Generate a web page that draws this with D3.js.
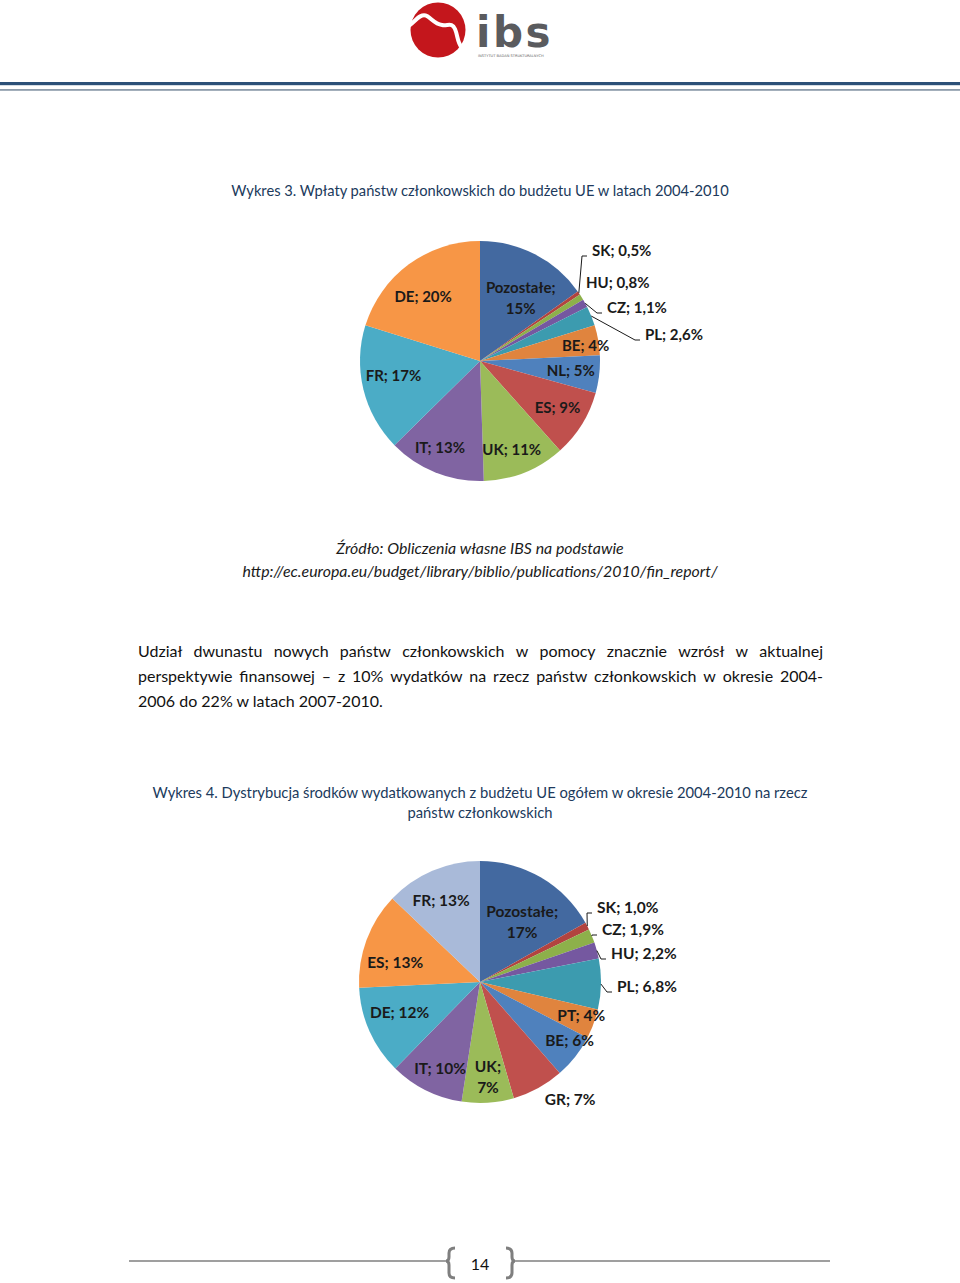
<!DOCTYPE html>
<html><head><meta charset="utf-8">
<script src="https://cdn.jsdelivr.net/npm/d3@7"></script>
<style>
html,body{margin:0;padding:0;background:#fff;}
svg{display:block;}
</style></head>
<body>
<script>
// ---------- DATA ----------
const chart1Categories = ["Pozostałe","SK","HU","CZ","PL","BE","NL","ES","UK","IT","FR","DE"];
const chart1Values = [15, 0.5, 0.8, 1.1, 2.6, 4, 5, 9, 11, 13, 17, 20];
const chart1Labels = ["15%","0,5%","0,8%","1,1%","2,6%","4%","5%","9%","11%","13%","17%","20%"];

const chart2Categories = ["Pozostałe","SK","CZ","HU","PL","PT","BE","GR","UK","IT","DE","ES","FR"];
const chart2Values = [17, 1.0, 1.9, 2.2, 6.8, 4, 6, 7, 7, 10, 12, 13, 13];
const chart2Labels = ["17%","1,0%","1,9%","2,2%","6,8%","4%","6%","7%","7%","10%","12%","13%","13%"];

// ---------- STYLE / LAYOUT ----------
const chart1Colors = ["#4369A0","#B2433F","#8DB04A","#7558A0","#3C9BAF","#E0843E","#4F81BD","#C0504D","#9BBB59","#8064A2","#4BACC6","#F79646"];
const chart2Colors = ["#4369A0","#B2433F","#8DB04A","#7558A0","#3C9BAF","#E0843E","#4F81BD","#C0504D","#9BBB59","#8064A2","#4BACC6","#F79646","#A9BAD9"];
// inside label placement: [radius as fraction of pie radius, angular nudge in degrees]
const chart1LabelPlace = {"Pozostałe":[0.63,5.3],"BE":[0.89,1.4],"NL":[0.76,-0.8],"ES":[0.75,-1.3],"UK":[0.78,2],"IT":[0.79,3.2],"FR":[0.73,4.6],"DE":[0.72,-4.8]};
const chart2LabelPlace = {"Pozostałe":[0.61,4.5],"PT":[0.88,-2.2],"BE":[0.88,-5.3],"GR":[1.22,-8.9],"UK":[0.78,-1.1],"IT":[0.78,-1.6],"DE":[0.71,3.6],"ES":[0.72,-7.2],"FR":[0.75,-2.2]};
// callout labels: offset of label's left/middle from pie centre, and whether a leader is drawn
const chart1Callouts = {"SK":[112,-111,true],"HU":[106,-79,false],"CZ":[127,-54,true],"PL":[165,-27,true]};
const chart2Callouts = {"SK":[117,-75,true],"CZ":[122,-53,true],"HU":[131,-29,true],"PL":[137,4,true]};
const chart1TwoLine = ["Pozostałe"];
const chart2TwoLine = ["Pozostałe","UK"];

const W = 960, H = 1283;
const svg = d3.select("body").append("svg").attr("width", W).attr("height", H);
const FONT = "Lato, 'Open Sans', sans-serif";

// ---------- HEADER ----------
const logo = svg.append("g");
logo.append("circle").attr("cx",438).attr("cy",30).attr("r",27.5).attr("fill","#C4161C");
logo.append("path")
  .attr("d","M410,25 C416,20 421,13 427,16 C432,19 435,24 442,25 C448,26 452,22 455,29 C458,36 457,42 462,48")
  .attr("fill","none").attr("stroke","#fff").attr("stroke-width",4).attr("stroke-linecap","round");
logo.append("text").attr("x",476).attr("y",32).text("ibs")
  .attr("font-family","'DejaVu Sans', sans-serif").attr("font-weight","bold")
  .attr("dominant-baseline","central")
  .attr("font-size",42).attr("fill","#5A5B5E").attr("letter-spacing",2.5);
logo.append("text").attr("x",478).attr("y",57).text("INSTYTUT BADAŃ STRUKTURALNYCH")
  .attr("font-family","'DejaVu Sans', sans-serif").attr("font-size",3.6).attr("fill","#666");
svg.append("rect").attr("x",0).attr("y",82).attr("width",W).attr("height",3.2).attr("fill","#2C5078");
svg.append("rect").attr("x",0).attr("y",89).attr("width",W).attr("height",1.8).attr("fill","#8D9CAB");

// ---------- TEXT HELPERS ----------
function text(x, y, s, opts) {
  const t = svg.append("text").attr("x",x).attr("y",y).text(s)
    .attr("font-family",FONT).attr("font-size",opts.size||15)
    .attr("fill",opts.fill||"#111").attr("text-anchor",opts.anchor||"start")
    .attr("dominant-baseline","central");
  if (opts.italic) t.attr("font-style","italic");
  if (opts.weight) t.attr("font-weight",opts.weight);
  return t;
}
function justifyLine(x0, x1, y, s, opts) {
  const words = s.split(" ");
  const nodes = words.map(w => text(0, y, w, opts));
  const widths = nodes.map(n => n.node().getComputedTextLength());
  const total = d3.sum(widths);
  const gap = (x1 - x0 - total) / (words.length - 1);
  let x = x0;
  nodes.forEach((n,i) => { n.attr("x", x); x += widths[i] + gap; });
}

// ---------- TITLES & TEXT ----------
const titleColor = "#203A5C";
text(480, 190, "Wykres 3. Wpłaty państw członkowskich do budżetu UE w latach 2004-2010", {size:14.7, fill:titleColor, anchor:"middle"});
text(480, 547, "Źródło: Obliczenia własne IBS na podstawie", {size:15.9, italic:true, anchor:"middle", fill:"#1a1a1a"});
text(480, 570, "http://ec.europa.eu/budget/library/biblio/publications/2010/fin_report/", {size:15.9, italic:true, anchor:"middle", fill:"#1a1a1a"});

const pOpts = {size:16, fill:"#111"};
justifyLine(138, 823, 650, "Udział dwunastu nowych państw członkowskich w pomocy znacznie wzrósł w aktualnej", pOpts);
justifyLine(138, 823, 675, "perspektywie finansowej – z 10% wydatków na rzecz państw członkowskich w okresie 2004-", pOpts);
text(138, 700, "2006 do 22% w latach 2007-2010.", pOpts);

text(480, 792, "Wykres 4. Dystrybucja środków wydatkowanych z budżetu UE ogółem w okresie 2004-2010 na rzecz", {size:14.75, fill:titleColor, anchor:"middle"});
text(480, 812, "państw członkowskich", {size:14.75, fill:titleColor, anchor:"middle"});

// ---------- PIES ----------
function drawPie(cx, cy, R, cats, vals, labels, colors, place, callouts, twoLine, fsize) {
  const g = svg.append("g").attr("transform",`translate(${cx},${cy})`);
  const data = cats.map((c,i) => ({cat:c, v:vals[i], lab:labels[i], col:colors[i]}));
  const pie = d3.pie().sort(null).value(d => d.v).startAngle(0).endAngle(2*Math.PI);
  const arcs = pie(data);
  const arc = d3.arc().innerRadius(0).outerRadius(R);
  g.selectAll("path.slice").data(arcs).join("path").attr("class","slice")
    .attr("d", arc).attr("fill", d => d.data.col);
  const lg = g.append("g").attr("font-family",FONT).attr("font-weight","bold")
    .attr("font-size",fsize).attr("fill","#1A1A1A");
  arcs.forEach(a => {
    const d = a.data;
    const mid = (a.startAngle + a.endAngle)/2;
    if (callouts[d.cat]) {
      const [lx, ly, leader] = callouts[d.cat];
      if (leader) {
        const px = R*Math.sin(mid), py = -R*Math.cos(mid);
        const ex = lx - 5, ey = ly + 6;
        g.append("path").attr("d",`M${px},${py}L${ex-5},${ey}L${ex},${ey}`)
          .attr("fill","none").attr("stroke","#1A1A1A").attr("stroke-width",1);
      }
      lg.append("text").attr("x",lx).attr("y",ly).attr("dominant-baseline","central")
        .text(d.cat + "; " + d.lab);
    } else {
      const [k, da] = place[d.cat];
      const r = k*R, ang = mid + da*Math.PI/180;
      const x = r*Math.sin(ang), y = -r*Math.cos(ang);
      if (twoLine.includes(d.cat)) {
        lg.append("text").attr("x",x).attr("y",y-10.5).attr("text-anchor","middle")
          .attr("dominant-baseline","central").text(d.cat + ";");
        lg.append("text").attr("x",x).attr("y",y+10.5).attr("text-anchor","middle")
          .attr("dominant-baseline","central").text(d.lab);
      } else {
        lg.append("text").attr("x",x).attr("y",y).attr("text-anchor","middle")
          .attr("dominant-baseline","central").text(d.cat + "; " + d.lab);
      }
    }
  });
}
drawPie(480, 361, 120, chart1Categories, chart1Values, chart1Labels, chart1Colors, chart1LabelPlace, chart1Callouts, chart1TwoLine, 15);
drawPie(480, 982, 121, chart2Categories, chart2Values, chart2Labels, chart2Colors, chart2LabelPlace, chart2Callouts, chart2TwoLine, 15.5);

// ---------- FOOTER ----------
const fg = svg.append("g").attr("stroke","#7F7F7F").attr("fill","none");
fg.append("line").attr("x1",129).attr("x2",447).attr("y1",1261).attr("y2",1261).attr("stroke-width",1.6);
fg.append("line").attr("x1",513).attr("x2",830).attr("y1",1261).attr("y2",1261).attr("stroke-width",1.6);
fg.append("path").attr("d","M455,1248 Q449,1248 449,1253 L449,1257 Q449,1261 446,1261 Q449,1261 449,1265 L449,1273 Q449,1278 455,1278").attr("stroke-width",3);
fg.append("path").attr("d","M506,1248 Q512,1248 512,1253 L512,1257 Q512,1261 515,1261 Q512,1261 512,1265 L512,1273 Q512,1278 506,1278").attr("stroke-width",3);
text(480, 1263, "14", {size:16, anchor:"middle", fill:"#111"});
</script>
</body></html>
